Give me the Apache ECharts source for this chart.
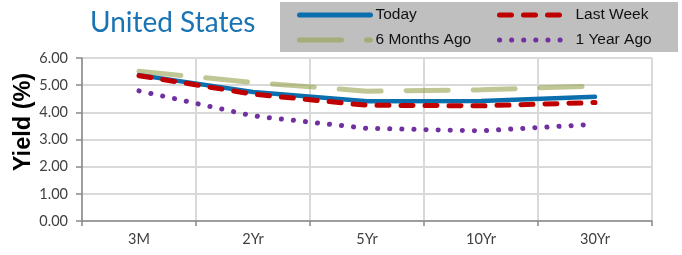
<!DOCTYPE html>
<html>
<head>
<meta charset="utf-8">
<script src="https://cdn.jsdelivr.net/npm/echarts@6/dist/echarts.min.js"></script>
<style>
html,body{margin:0;padding:0;background:#fff;}
#chart{width:682px;height:255px;}
</style>
</head>
<body>
<div id="chart"></div>
<script>
var titleText = 'United States';
var yAxisTitle = 'Yield (%)';
var categories = ['3M', '2Yr', '5Yr', '10Yr', '30Yr'];
var today = [5.37, 4.75, 4.41, 4.42, 4.57];
var lastWeek = [5.35, 4.67, 4.26, 4.24, 4.36];
var sixMonthsAgo = [5.51, 5.10, 4.78, 4.83, 4.97];
var oneYearAgo = [4.79, 3.87, 3.41, 3.32, 3.56];
var seriesNames = ['Today', 'Last Week', '6 Months Ago', '1 Year Ago'];

var chart = echarts.init(document.getElementById('chart'), null, {renderer: 'canvas'});

var legendText = {fontFamily: 'Liberation Sans, Arial, sans-serif', fontSize: 15.5, color: '#111'};
function mkLegend(name, left, top, width, type) {
  return {
    data: [name], left: left, top: top, padding: 0,
    itemWidth: 71, itemHeight: 14,
    textStyle: legendText,
    itemStyle: {opacity: 0},
    lineStyle: {width: width, cap: 'round', type: type},
    selectedMode: false
  };
}

var option = {
  animation: false,
  backgroundColor: '#ffffff',
  graphic: [
    {type: 'rect', shape: {x: 280, y: 2, width: 398, height: 50}, style: {fill: '#bfbfbf'}, z: -10},
    {type: 'text', x: 90, y: 23, style: {text: titleText, fontFamily: 'Lato', fontSize: 28, fill: '#1a73b3', verticalAlign: 'middle'}},
    {type: 'text', x: 24, y: 122, rotation: Math.PI / 2, style: {text: yAxisTitle, fontFamily: 'Liberation Sans', fontWeight: 'bold', fontSize: 23.5, fill: '#000', align: 'center', verticalAlign: 'middle'}}
  ],
  legend: [
    mkLegend(seriesNames[0], 297, 7, 5, 'solid'),
    mkLegend(seriesNames[1], 497, 7, 5, [12, 12]),
    mkLegend(seriesNames[2], 297, 32, 5, [42, 25]),
    mkLegend(seriesNames[3], 497, 32, 5, [0.1, 12])
  ],
  grid: {left: 82, right: 30, top: 58, bottom: 34, containLabel: false},
  xAxis: {
    type: 'category', data: categories, boundaryGap: true,
    axisLine: {lineStyle: {color: '#898989', width: 1.5}},
    axisTick: {show: true, length: 5, lineStyle: {color: '#898989', width: 1.5}},
    axisLabel: {fontFamily: 'Lato', fontSize: 14.5, color: '#404040', margin: 11},
    splitLine: {show: true, lineStyle: {color: '#d9d9d9', width: 2}}
  },
  yAxis: {
    type: 'value', min: 0, max: 6, interval: 1,
    axisLine: {show: true, lineStyle: {color: '#898989', width: 1.5}},
    axisTick: {show: true, length: 6, lineStyle: {color: '#898989', width: 1.5}},
    axisLabel: {fontFamily: 'Lato', fontSize: 14.5, color: '#404040', margin: 14,
      formatter: function (v) { return v.toFixed(2); }},
    splitLine: {show: true, lineStyle: {color: '#d9d9d9', width: 2}}
  },
  series: [
    {name: seriesNames[2], type: 'line', data: sixMonthsAgo, symbol: 'none', z: 2,
      itemStyle: {color: 'rgba(152,162,77,0.6)'},
      lineStyle: {color: 'rgba(152,162,77,0.6)', width: 5, type: [42, 25], cap: 'round'}},
    {name: seriesNames[0], type: 'line', data: today, symbol: 'none', z: 3,
      itemStyle: {color: '#0b6fae'},
      lineStyle: {color: '#0b6fae', width: 4.5, cap: 'round'}},
    {name: seriesNames[1], type: 'line', data: lastWeek, symbol: 'none', z: 4,
      itemStyle: {color: '#c00000'},
      lineStyle: {color: '#c00000', width: 5, type: [12, 12], cap: 'round'}},
    {name: seriesNames[3], type: 'line', data: oneYearAgo, symbol: 'none', z: 5,
      itemStyle: {color: '#7030a0'},
      lineStyle: {color: '#7030a0', width: 5, type: [0.1, 12], cap: 'round'}}
  ]
};
chart.setOption(option);
</script>
</body>
</html>
